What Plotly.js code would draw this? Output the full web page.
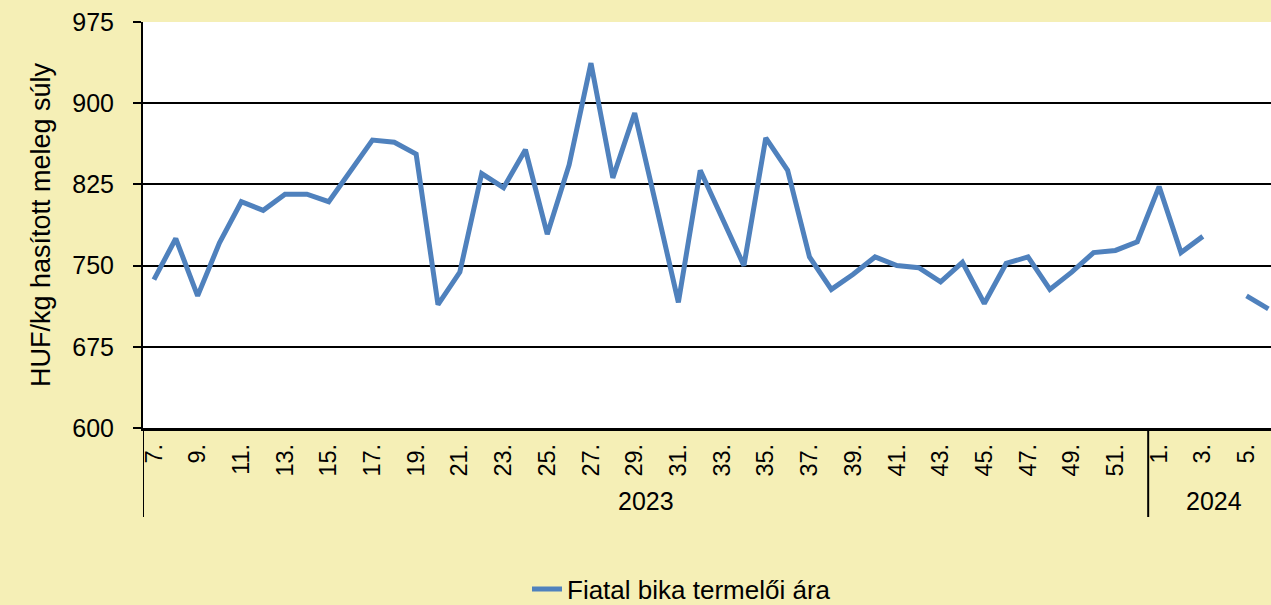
<!DOCTYPE html>
<html>
<head>
<meta charset="utf-8">
<script src="https://cdn.plot.ly/plotly-3.0.1.min.js"></script>
<style>
html,body{margin:0;padding:0;background:#F5EFB6;}
#chart{width:1271px;height:605px;}
</style>
</head>
<body>
<div id="chart"></div>
<script>
// Weeks and prices (HUF/kg hasított meleg súly)
const weeks2023 = [7,8,9,10,11,12,13,14,15,16,17,18,19,20,21,22,23,24,25,26,27,28,29,30,31,32,33,34,35,36,37,38,39,40,41,42,43,44,45,46,47,48,49,50,51,52];
const prices2023 = [737,775,722,771,809,801,816,816,809,838,866,864,853,714,744,835,822,857,779,843,937,831,891,804,716,838,794,750,868,838,758,728,742,758,750,748,735,753,715,752,758,728,744,762,764,772];
const weeks2024 = [1,2,3,4,5,6];
const prices2024 = [823,762,777,null,722,710];
const years = ['2023','2024'];
const seriesName = 'Fiatal bika termelői ára';
const yTitle = 'HUF/kg hasított meleg súly';
const yTicks = [600,675,750,825,900,975];

const categories = [];
const values = [];
const tickvals = [];
const ticktext = [];
weeks2023.forEach((w,i)=>{
  const c = years[0]+'-'+w;
  categories.push(c); values.push(prices2023[i]);
  if (w % 2 === 1) { tickvals.push(c); ticktext.push(w+'.'); }
});
weeks2024.forEach((w,i)=>{
  const c = years[1]+'-'+w;
  categories.push(c); values.push(prices2024[i]);
  if (w % 2 === 1) { tickvals.push(c); ticktext.push(w+'.'); }
});

const n23 = weeks2023.length;
const n24 = weeks2024.length;
const FONT = 'Liberation Sans, Arial, sans-serif';

const trace = {
  type: 'scatter',
  mode: 'lines',
  x: categories,
  y: values,
  name: seriesName,
  connectgaps: false,
  line: {color: '#4F81BD', width: 5},
  showlegend: true
};

const layout = {
  width: 1271,
  height: 605,
  margin: {l: 143, r: 0, t: 22, b: 177, autoexpand: false},
  paper_bgcolor: '#F5EFB6',
  plot_bgcolor: '#FFFFFF',
  font: {family: FONT, color: '#000'},
  showlegend: true,
  legend: {
    orientation: 'h',
    x: (527 - 143) / 1128,
    xanchor: 'left',
    y: (428 - 589) / 406,
    yanchor: 'middle',
    bgcolor: 'rgba(0,0,0,0)',
    font: {family: FONT, size: 26, color: '#000'}
  },
  xaxis: {
    type: 'category',
    categoryorder: 'array',
    categoryarray: categories,
    range: [-0.5, n23 + n24 - 0.88],
    tickmode: 'array',
    tickvals: tickvals,
    ticktext: ticktext,
    tickangle: -90,
    ticks: '',
    ticklabelstandoff: 4,
    tickfont: {family: FONT, size: 23.5, color: '#000'},
    showgrid: false,
    showline: true,
    linecolor: '#000',
    linewidth: 2.5,
    zeroline: false,
    automargin: false,
    fixedrange: true
  },
  yaxis: {
    range: [600, 975],
    tickmode: 'array',
    tickvals: yTicks,
    ticktext: yTicks.map(String),
    ticks: 'outside',
    ticklen: 8,
    tickwidth: 2,
    tickcolor: '#000',
    ticklabelstandoff: 14,
    tickfont: {family: FONT, size: 25, color: '#000'},
    showgrid: true,
    gridcolor: '#000',
    gridwidth: 2,
    showline: true,
    linecolor: '#000',
    linewidth: 2,
    zeroline: false,
    automargin: false,
    title: {text: yTitle, font: {family: FONT, size: 27, color: '#000'}, standoff: 14},
    fixedrange: true
  },
  shapes: [
    {type: 'line', xref: 'x', yref: 'paper', x0: -0.5, x1: -0.5, y0: 0, y1: (428 - 517) / 406, line: {color: '#000', width: 2}},
    {type: 'line', xref: 'x', yref: 'paper', x0: n23 - 0.5, x1: n23 - 0.5, y0: 0, y1: (428 - 517) / 406, line: {color: '#000', width: 2}}
  ],
  annotations: [
    {xref: 'x', yref: 'paper', x: (n23 - 1) / 2, y: (428 - 501) / 406, text: years[0], showarrow: false, xanchor: 'center', yanchor: 'middle', font: {family: FONT, size: 25, color: '#000'}},
    {xref: 'x', yref: 'paper', x: n23 + (n24 - 1) / 2, y: (428 - 501) / 406, text: years[1], showarrow: false, xanchor: 'center', yanchor: 'middle', font: {family: FONT, size: 25, color: '#000'}}
  ]
};

Plotly.newPlot('chart', [trace], layout, {displayModeBar: false, staticPlot: true});
</script>
</body>
</html>
